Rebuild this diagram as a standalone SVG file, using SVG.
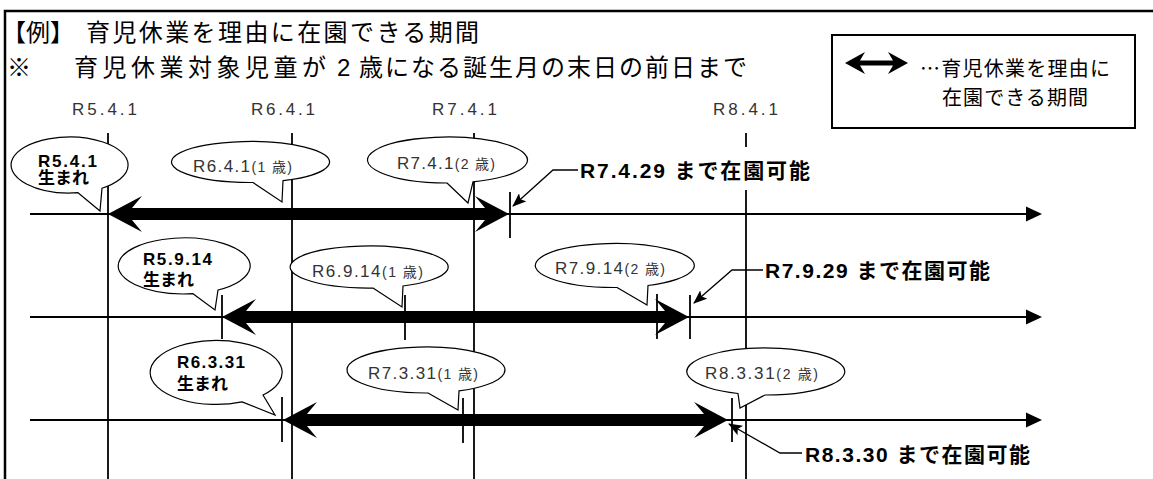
<svg xmlns="http://www.w3.org/2000/svg" width="1153" height="479" viewBox="0 0 1153 479">
<style>
.frame{fill:none;stroke:#000;stroke-width:2.5}
.vl{stroke:#000;stroke-width:1.8;fill:none}
.tl{stroke:#000;stroke-width:2;fill:none;marker-end:url(#tlh)}
.tk{stroke:#000;stroke-width:1.8;fill:none}
.thick{fill:#000;stroke:none}
.ptr{stroke:#000;stroke-width:1.3;fill:none;marker-end:url(#ph)}
.bal{fill:#fff;stroke:#000;stroke-width:1.2}
.ttl{font-family:"Noto Sans CJK JP",sans-serif;font-size:24px;fill:#000}
.ax{font-family:"Liberation Sans","Noto Sans CJK JP",sans-serif;font-size:17px;fill:#333}
.bt{font-family:"Liberation Sans","Noto Sans CJK JP",sans-serif;font-size:17px;fill:#333}
.bs{font-size:14px}
.bb{font-family:"Liberation Sans","Noto Sans CJK JP",sans-serif;font-size:17px;font-weight:bold;fill:#000}
.big{font-family:"Liberation Sans","Noto Sans CJK JP",sans-serif;font-size:21px;font-weight:bold;fill:#000}
.lg{font-family:"Noto Sans CJK JP",sans-serif;font-size:20px;fill:#000}
</style>
<defs>
<marker id="tlh" markerUnits="userSpaceOnUse" markerWidth="16" markerHeight="16" viewBox="0 0 16 16" refX="8" refY="8" orient="auto">
<path d="M0,0.5 L16,8 L0,15.5 Z" fill="#000"/>
</marker>
<marker id="ph" markerUnits="userSpaceOnUse" markerWidth="14" markerHeight="11" viewBox="0 0 14 11" refX="13" refY="5.5" orient="auto">
<path d="M0,0 L14,5.5 L0,11 L3,5.5 Z" fill="#000"/>
</marker>
</defs>
<rect width="1153" height="479" fill="#fff"/>
<rect id="frame" class="frame" x="5" y="11" width="1160" height="500"/>

<g id="title">
<text class="ttl" y="41"><tspan x="2">【例】</tspan><tspan x="86" letter-spacing="2.4">育児休業を理由に在園できる期間</tspan></text>
<text class="ttl" y="76"><tspan x="7">※</tspan><tspan x="74" letter-spacing="4.5">育児休業対象児童が</tspan><tspan x="337" font-family="Liberation Sans, sans-serif">2</tspan><tspan x="359" letter-spacing="2">歳になる誕生月の末日の前日まで</tspan></text>
</g>

<g id="legend">
<rect x="832" y="35" width="303" height="93" fill="#fff" stroke="#000" stroke-width="2"/>
<path class="thick" d="M845,63 L865,52 L860,60.5 L893,60.5 L888,52 L908,63 L888,74 L893,65.5 L860,65.5 L865,74 Z"/>
<text class="lg" x="920" y="76" textLength="190" lengthAdjust="spacing">…育児休業を理由に</text>
<text class="lg" x="942" y="105" textLength="146" lengthAdjust="spacing">在園できる期間</text>
</g>

<g id="axis-labels">
<text class="ax" x="72" y="115" textLength="65" lengthAdjust="spacing">R5.4.1</text>
<text class="ax" x="251" y="115" textLength="64" lengthAdjust="spacing">R6.4.1</text>
<text class="ax" x="432" y="115" textLength="65" lengthAdjust="spacing">R7.4.1</text>
<text class="ax" x="713" y="115" textLength="65" lengthAdjust="spacing">R8.4.1</text>
</g>

<g id="connectors">
<line class="vl" x1="108" y1="133" x2="108" y2="479"/>
<line class="vl" x1="292" y1="133" x2="292" y2="479"/>
<line class="vl" x1="474" y1="133" x2="474" y2="479"/>
<line class="vl" x1="746" y1="133" x2="746" y2="479"/>
<line class="tl" x1="30" y1="214" x2="1034" y2="214"/>
<line class="tl" x1="30" y1="317" x2="1034" y2="317"/>
<line class="tl" x1="30" y1="420" x2="1034" y2="420"/>
<path class="thick" d="M108,214 L142,196 L132,208 L485,208 L475,196 L509,214 L475,232 L485,220 L132,220 L142,232 Z"/>
<path class="thick" d="M222,317 L256,299 L246,311 L665,311 L655,299 L689,317 L655,335 L665,323 L246,323 L256,335 Z"/>
<path class="thick" d="M283,420 L317,402 L307,414 L704,414 L694,402 L728,420 L694,438 L704,426 L307,426 L317,438 Z"/>
<line class="tk" x1="510" y1="192" x2="510" y2="238"/>
<line class="tk" x1="222" y1="295" x2="222" y2="339"/>
<line class="tk" x1="405" y1="295" x2="405" y2="340"/>
<line class="tk" x1="657" y1="294" x2="657" y2="339"/>
<line class="tk" x1="690" y1="295" x2="690" y2="339"/>
<line class="tk" x1="282" y1="397" x2="282" y2="442"/>
<line class="tk" x1="463" y1="398" x2="463" y2="443"/>
<line class="tk" x1="732" y1="398" x2="732" y2="442"/>
<polyline class="ptr" points="578,170 553,170 513,206"/>
<polyline class="ptr" points="763,270 732,270 694,303"/>
<polyline class="ptr" points="802,453 780,453 729,424"/>
</g>

<g id="b-r541">
<path class="bal" d="M78,192.7 L100,211 L102,188.3 A58.5,28 0 1 0 78,192.7 Z"/>
<text class="bb" x="38" y="167" textLength="59" lengthAdjust="spacing">R5.4.1</text>
<text class="bb" x="38" y="184">生まれ</text>
</g>
<g id="b-r641">
<path class="bal" d="M253,182.5 L282,202 L283,180.7 A79,20.5 0 1 0 253,182.5 Z"/>
<text class="bt" x="193" y="172" textLength="99" lengthAdjust="spacing">R6.4.1<tspan class="bs">(1 歳)</tspan></text>
</g>
<g id="b-r741">
<path class="bal" d="M447,183 L468,203 L473,181.8 A80,23 0 1 0 447,183 Z"/>
<text class="bt" x="397" y="169" textLength="98" lengthAdjust="spacing">R7.4.1<tspan class="bs">(2 歳)</tspan></text>
</g>
<g id="b-r5914">
<path class="bal" d="M193,293.7 L215,310 L218,290 A66,28 0 1 0 193,293.7 Z"/>
<text class="bb" x="143" y="265" textLength="69" lengthAdjust="spacing">R5.9.14</text>
<text class="bb" x="143" y="286">生まれ</text>
</g>
<g id="b-r6914">
<path class="bal" d="M373,288 L402,307 L403,286 A79,21 0 1 0 373,288 Z"/>
<text class="bt" x="312" y="277" textLength="111" lengthAdjust="spacing">R6.9.14<tspan class="bs">(1 歳)</tspan></text>
</g>
<g id="b-r7914">
<path class="bal" d="M617,287.5 L647,305 L648,285.5 A79.5,22 0 1 0 617,287.5 Z"/>
<text class="bt" x="555" y="274" textLength="110" lengthAdjust="spacing">R7.9.14<tspan class="bs">(2 歳)</tspan></text>
</g>
<g id="b-r6331">
<path class="bal" d="M242,401.9 L275,415 L263,395 A66,32 0 1 0 242,401.9 Z"/>
<text class="bb" x="177" y="368" textLength="68" lengthAdjust="spacing">R6.3.31</text>
<text class="bb" x="177" y="390">生まれ</text>
</g>
<g id="b-r7331">
<path class="bal" d="M428,393 L458,410 L459,390.9 A79,23 0 1 0 428,393 Z"/>
<text class="bt" x="368" y="379" textLength="110" lengthAdjust="spacing">R7.3.31<tspan class="bs">(1 歳)</tspan></text>
</g>
<g id="b-r8331">
<path class="bal" d="M738,393.5 L740,408 L765,395 A79,23.5 0 1 0 738,393.5 Z"/>
<text class="bt" x="705" y="379" textLength="113" lengthAdjust="spacing">R8.3.31<tspan class="bs">(2 歳)</tspan></text>
</g>

<g id="l-r7429">
<rect x="579" y="147" width="236" height="43" fill="#fff"/>
<text class="big" x="580" y="178" textLength="230" lengthAdjust="spacing">R7.4.29 まで在園可能</text>
</g>
<g id="l-r7929">
<text class="big" x="765" y="278" textLength="225" lengthAdjust="spacing">R7.9.29 まで在園可能</text>
</g>
<g id="l-r8330">
<text class="big" x="805" y="462" textLength="225" lengthAdjust="spacing">R8.3.30 まで在園可能</text>
</g>
</svg>
